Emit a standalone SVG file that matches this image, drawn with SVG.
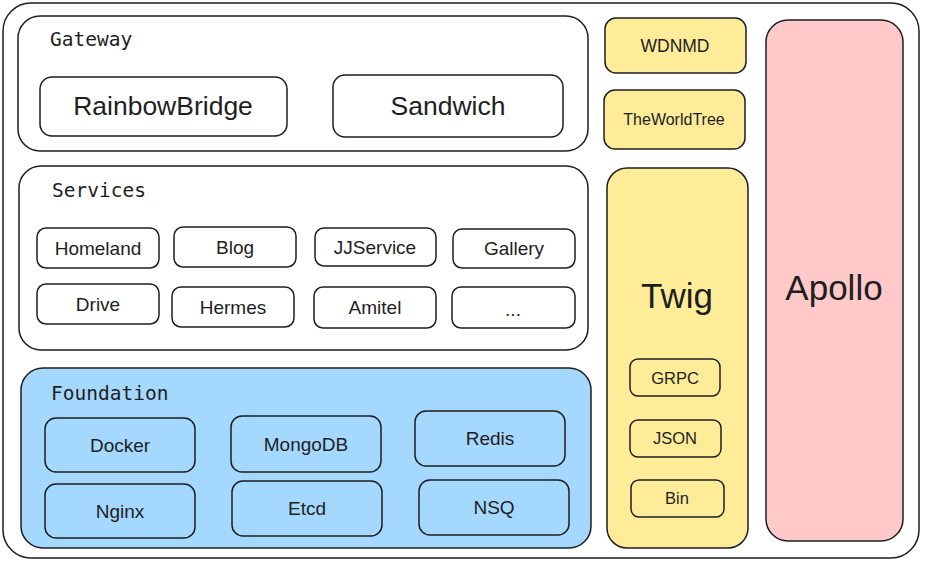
<svg xmlns="http://www.w3.org/2000/svg" width="926" height="562" viewBox="0 0 926 562">
<style>
.b{fill:none;stroke:#1e1e1e;stroke-width:1.5}
.w{fill:#ffffff;stroke:#1e1e1e;stroke-width:1.5}
.bl{fill:#a5d8ff;stroke:#1e1e1e;stroke-width:1.5}
.y{fill:#ffec99;stroke:#1e1e1e;stroke-width:1.5}
.p{fill:#ffc9c9;stroke:#1e1e1e;stroke-width:1.5}
.h{font-family:"DejaVu Sans Mono","Liberation Mono",monospace;font-size:19.5px;fill:#1e1e1e}
.t{font-family:"Liberation Sans","DejaVu Sans",sans-serif;fill:#1e1e1e;text-anchor:middle;dominant-baseline:central}
.s18{font-size:19px}
.s24{font-size:26.5px}
.s16{font-size:16.5px}
.s17{font-size:17.5px}
.s14{font-size:16px}
.s30{font-size:35px}
</style>
<rect width="926" height="562" fill="#ffffff"/>
<g id="outer"><rect class="w" x="3" y="3" width="916" height="555" rx="28" stroke-width="2"/></g>

<g id="gateway">
<rect class="w" x="18" y="16" width="570" height="135" rx="22"/>
<text class="h" x="50" y="46">Gateway</text>
</g>
<g id="rainbowbridge"><rect class="w" x="40" y="77" width="247" height="59" rx="12"/><text class="t s24" x="163" y="106">RainbowBridge</text></g>
<g id="sandwich"><rect class="w" x="333" y="75" width="230" height="62" rx="12"/><text class="t s24" x="448" y="106">Sandwich</text></g>

<g id="services">
<rect class="w" x="19" y="166" width="569" height="184" rx="22"/>
<text class="h" x="52" y="197">Services</text>
</g>
<g id="homeland"><rect class="w" x="37" y="228" width="122" height="40" rx="9"/><text class="t s18" x="98" y="248">Homeland</text></g>
<g id="blog"><rect class="w" x="174" y="227" width="122" height="40" rx="9"/><text class="t s18" x="235" y="247">Blog</text></g>
<g id="jjservice"><rect class="w" x="315" y="228" width="121" height="38" rx="9"/><text class="t s18" x="375" y="247">JJService</text></g>
<g id="gallery"><rect class="w" x="453" y="229" width="122" height="39" rx="9"/><text class="t s18" x="514" y="248">Gallery</text></g>
<g id="drive"><rect class="w" x="37" y="284" width="122" height="40" rx="9"/><text class="t s18" x="98" y="304">Drive</text></g>
<g id="hermes"><rect class="w" x="172" y="287" width="122" height="40" rx="9"/><text class="t s18" x="233" y="307">Hermes</text></g>
<g id="amitel"><rect class="w" x="314" y="287" width="122" height="41" rx="9"/><text class="t s18" x="375" y="307">Amitel</text></g>
<g id="more"><rect class="w" x="452" y="287" width="123" height="41" rx="9"/><text class="t s18" x="513" y="309">...</text></g>

<g id="foundation">
<rect class="bl" x="21" y="368" width="570" height="180" rx="22"/>
<text class="h" x="51" y="400">Foundation</text>
</g>
<g id="docker"><rect class="bl" x="45" y="418" width="150" height="54" rx="11"/><text class="t s18" x="120" y="445">Docker</text></g>
<g id="mongodb"><rect class="bl" x="231" y="416" width="150" height="56" rx="11"/><text class="t s18" x="306" y="444">MongoDB</text></g>
<g id="redis"><rect class="bl" x="415" y="411" width="150" height="55" rx="11"/><text class="t s18" x="490" y="438">Redis</text></g>
<g id="nginx"><rect class="bl" x="45" y="484" width="150" height="54" rx="11"/><text class="t s18" x="120" y="511">Nginx</text></g>
<g id="etcd"><rect class="bl" x="232" y="481" width="150" height="55" rx="11"/><text class="t s18" x="307" y="508">Etcd</text></g>
<g id="nsq"><rect class="bl" x="419" y="480" width="150" height="55" rx="11"/><text class="t s18" x="494" y="507">NSQ</text></g>

<g id="wdnmd"><rect class="y" x="605" y="18" width="141" height="55" rx="11"/><text class="t s17" x="675" y="46">WDNMD</text></g>
<g id="theworldtree"><rect class="y" x="604" y="90" width="141" height="59" rx="11"/><text class="t s14" x="674" y="119">TheWorldTree</text></g>

<g id="twig">
<rect class="y" x="607" y="168" width="141" height="380" rx="20"/>
<text class="t s30" x="677" y="295">Twig</text>
</g>
<g id="grpc"><rect class="y" x="630" y="359" width="90" height="37" rx="8"/><text class="t s16" x="675" y="378">GRPC</text></g>
<g id="json"><rect class="y" x="630" y="420" width="91" height="37" rx="8"/><text class="t s16" x="675" y="438">JSON</text></g>
<g id="bin"><rect class="y" x="631" y="480" width="93" height="37" rx="8"/><text class="t s16" x="677" y="498">Bin</text></g>

<g id="apollo"><rect class="p" x="766" y="20" width="137" height="521" rx="22"/><text class="t s30" x="834" y="287">Apollo</text></g>

<g id="connectors"></g>
</svg>
